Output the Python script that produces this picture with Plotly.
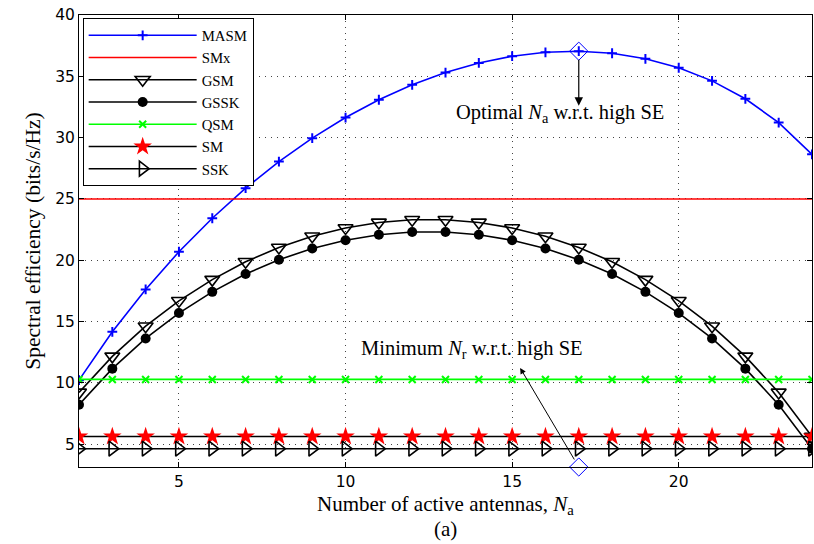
import plotly.graph_objects as go

na = list(range(2, 25))
masm = [10.23, 14.17, 17.63, 20.70, 23.43, 25.88, 28.05, 29.96, 31.64, 33.09, 34.31, 35.31,
        36.09, 36.64, 36.96, 37.05, 36.88, 36.43, 35.70, 34.63, 33.17, 31.23, 28.64]
gssk = [8.23, 11.17, 13.63, 15.70, 17.43, 18.88, 20.05, 20.96, 21.64, 22.09, 22.31, 22.31,
        22.09, 21.64, 20.96, 20.05, 18.88, 17.43, 15.70, 13.63, 11.17, 8.23, 4.64]
gsm = [v + 1.0 for v in gssk]
smx_val = 25.0
qsm_val = 10.29
sm_val = 5.64
ssk_val = 4.64
x_ticks = [5, 10, 15, 20]
y_ticks = [5, 10, 15, 20, 25, 30, 35, 40]
y_range = [3.15, 40]
x_range = [2, 24]
opt_na = 17

serif = "Liberation Serif"
sans = "DejaVu Sans"

fig = go.Figure()
fig.add_trace(go.Scatter(x=na, y=masm, name="MASM", mode="lines+markers",
                         line=dict(color="#0000ff", width=1.6),
                         marker=dict(symbol="cross-thin-open", size=7, line=dict(color="#0000ff", width=2))))
fig.add_trace(go.Scatter(x=na, y=[smx_val] * len(na), name="SMx", mode="lines",
                         line=dict(color="#ff0000", width=1.6)))
fig.add_trace(go.Scatter(x=na, y=gsm, name="GSM", mode="lines+markers",
                         line=dict(color="black", width=1.6),
                         marker=dict(symbol="triangle-down-open", size=13, color="black", line=dict(width=1.6))))
fig.add_trace(go.Scatter(x=na, y=gssk, name="GSSK", mode="lines+markers",
                         line=dict(color="black", width=1.6),
                         marker=dict(symbol="circle", size=10, color="black")))
fig.add_trace(go.Scatter(x=na, y=[qsm_val] * len(na), name="QSM", mode="lines+markers",
                         line=dict(color="#00ff00", width=1.6),
                         marker=dict(symbol="x-thin-open", size=7, line=dict(color="#00ff00", width=2))))
fig.add_trace(go.Scatter(x=na, y=[sm_val] * len(na), name="SM", mode="lines+markers",
                         line=dict(color="black", width=1.6),
                         marker=dict(symbol="star", size=14, color="#ff0000", line=dict(color="#ff0000", width=0))))
fig.add_trace(go.Scatter(x=na, y=[ssk_val] * len(na), name="SSK", mode="lines+markers",
                         line=dict(color="black", width=1.6),
                         marker=dict(symbol="triangle-right-open", size=13, color="black", line=dict(width=1.6))))

opt_y = masm[na.index(opt_na)]
fig.add_trace(go.Scatter(x=[opt_na, opt_na], y=[opt_y, y_range[0]], mode="markers", showlegend=False,
                         cliponaxis=False,
                         marker=dict(symbol="diamond-open", size=14, color="#0000ff", line=dict(width=1))))

axis_common = dict(showline=True, linecolor="black", linewidth=1, mirror="ticks", ticks="inside",
                   ticklen=5, tickcolor="black", showgrid=True, gridcolor="#444444",
                   griddash="1px,5px", gridwidth=1, zeroline=False,
                   tickfont=dict(family=sans, size=15.5, color="black"))

fig.update_layout(
    width=814, height=544,
    margin=dict(l=79, r=2, t=15, b=77),
    plot_bgcolor="white", paper_bgcolor="white",
    xaxis=dict(range=x_range, tickvals=x_ticks, **axis_common),
    yaxis=dict(range=y_range, tickvals=y_ticks,
               title=dict(text="Spectral efficiency (bits/s/Hz)", font=dict(family=serif, size=21.5, color="black"),
                          standoff=8),
               **axis_common),
    legend=dict(x=0.005, y=0.993, xanchor="left", yanchor="top", bordercolor="black", borderwidth=1,
                bgcolor="white", font=dict(family=serif, size=14.8, color="black"),
                itemwidth=108, tracegroupgap=0),
    showlegend=True,
)

ann_font = dict(family=serif, size=20.5, color="black")
fig.add_annotation(x=opt_na, y=32.6, ax=opt_na, ay=opt_y, axref="x", ayref="y", xref="x", yref="y",
                   text="", showarrow=True, arrowhead=2, arrowsize=1.4, arrowwidth=1.2, arrowcolor="black",
                   standoff=0, startstandoff=7)
fig.add_annotation(x=15.24, y=11.23, ax=opt_na, ay=y_range[0], axref="x", ayref="y", xref="x", yref="y",
                   text="", showarrow=True, arrowhead=2, arrowsize=1.2, arrowwidth=1, arrowcolor="black",
                   standoff=0, startstandoff=7)
fig.add_annotation(x=16.44, y=32.0, xref="x", yref="y", showarrow=False, font=ann_font,
                   text="Optimal <i>N</i><sub>a</sub> w.r.t. high SE")
fig.add_annotation(x=13.8, y=12.7, xref="x", yref="y", showarrow=False, font=ann_font,
                   text="Minimum <i>N</i><sub>r</sub> w.r.t. high SE")
fig.add_annotation(x=0.5, y=-0.085, xref="paper", yref="paper", yanchor="middle", showarrow=False,
                   font=dict(family=serif, size=21, color="black"),
                   text="Number of active antennas, <i>N</i><sub>a</sub>")
fig.add_annotation(x=0.5, y=-0.137, xref="paper", yref="paper", yanchor="middle", showarrow=False,
                   font=dict(family=serif, size=21, color="black"), text="(a)")

fig.write_html("out.html")
